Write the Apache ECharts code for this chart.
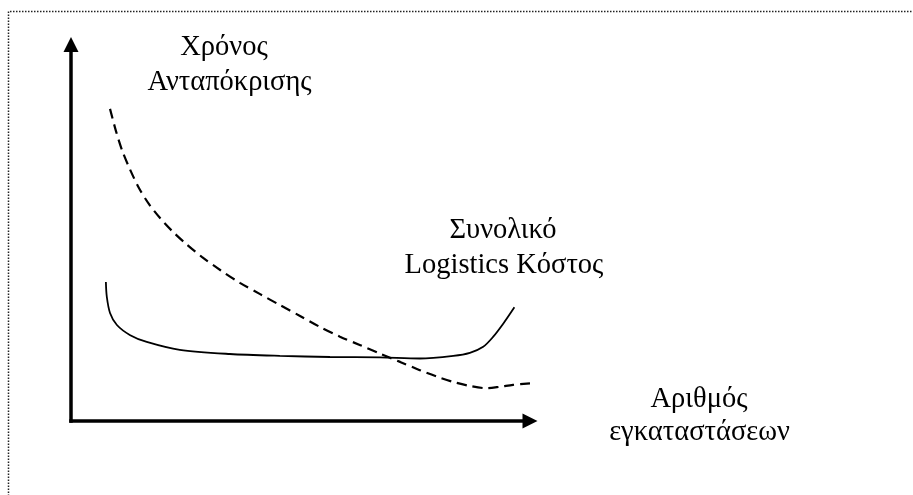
<!DOCTYPE html>
<html>
<head>
<meta charset="utf-8">
<script src="https://cdn.jsdelivr.net/npm/echarts@6/dist/echarts.min.js"></script>
<style>
html, body { margin: 0; padding: 0; background: #fff; }
#chart { width: 913px; height: 495px; }
</style>
</head>
<body>
<div id="chart"></div>
<script>
// relative scale 0-100 on both axes (the sketch has no ticks)
var costX = [7.6, 7.8, 8.5, 10.0, 12.9, 16.5, 23.7, 34.6, 45.5, 56.4, 67.3, 76.0, 83.3, 86.9, 89.8, 92.0, 94.2, 96.6];
var costY = [36.9, 33.0, 28.7, 25.5, 22.8, 21.0, 18.9, 17.8, 17.3, 17.0, 16.9, 16.6, 17.3, 18.1, 19.7, 22.4, 25.9, 30.2];

var timeX = [8.5, 9.8, 11.1, 12.9, 14.8, 17.0, 19.4, 22.0, 25.1, 28.5, 32.5, 36.8, 41.2, 45.5, 49.9, 54.2, 58.6, 62.9, 67.3, 71.7, 76.0, 79.7, 83.2, 86.9, 90.6, 93.5, 96.3, 100];
var timeY = [82.9, 77.0, 72.0, 66.7, 61.9, 57.6, 53.9, 50.5, 47.0, 43.6, 40.1, 36.7, 33.7, 30.8, 27.9, 25.0, 22.4, 20.2, 17.9, 15.7, 13.5, 11.8, 10.4, 9.3, 8.7, 9.1, 9.6, 10.0];

var yLabel = ['Χρόνος', 'Ανταπόκρισης'];
var costLabel = ['Συνολικό', 'Logistics Κόστος'];
var xLabel = ['Αριθμός', 'εγκαταστάσεων'];

var FONT = '28.5px "Liberation Serif", "DejaVu Serif", serif';

var pairs = function(xs, ys) {
	var res = [];
	for (var i = 0; i < xs.length; i++) {
		res.push([xs[i], ys[i]]);
	}
	return res;
};

var text = function(str, x, y) {
	return {
		type: 'text',
		x: x,
		y: y,
		z: 10,
		style: {
			text: str,
			font: FONT,
			fill: '#000',
			align: 'center',
			textAlign: 'center',
			verticalAlign: 'middle',
			textVerticalAlign: 'middle'
		}
	};
};

var axisLine = {
	show: true,
	symbol: ['none', 'triangle'],
	symbolSize: [15, 15],
	lineStyle: { color: '#000', width: 3.5, cap: 'square' }
};

var chart = echarts.init(document.getElementById('chart'));
chart.setOption({
	animation: false,
	backgroundColor: '#fff',
	grid: { left: 71, top: 44.5, right: 383, bottom: 74 },
	xAxis: {
		type: 'value', min: 0, max: 100,
		axisLine: axisLine,
		axisTick: { show: false },
		axisLabel: { show: false },
		splitLine: { show: false }
	},
	yAxis: {
		type: 'value', min: 0, max: 100,
		axisLine: axisLine,
		axisTick: { show: false },
		axisLabel: { show: false },
		splitLine: { show: false }
	},
	graphic: [
		// dotted frame, only top and left edges are inside the picture
		{
			type: 'polyline',
			shape: { points: [[8.5, 1000], [8.5, 11.5], [1000, 11.5]] },
			style: { stroke: '#222', lineWidth: 1.5, lineDash: [1.5, 1.5], fill: null }
		},
		text(yLabel[0], 224, 47.3),
		text(yLabel[1], 229.5, 82.3),
		text(costLabel[0], 503, 230.3),
		text(costLabel[1], 504, 265.3),
		text(xLabel[0], 699, 399.3),
		text(xLabel[1], 699.5, 432.3)
	],
	series: [
		{
			name: 'Συνολικό Logistics Κόστος',
			type: 'line',
			data: pairs(costX, costY),
			showSymbol: false,
			smooth: 0.3,
			lineStyle: { color: '#000', width: 1.8 }
		},
		{
			name: 'Χρόνος Ανταπόκρισης',
			type: 'line',
			data: pairs(timeX, timeY),
			showSymbol: false,
			smooth: 0.3,
			lineStyle: { color: '#000', width: 2.2, type: [10, 6] }
		}
	]
});
</script>
</body>
</html>
